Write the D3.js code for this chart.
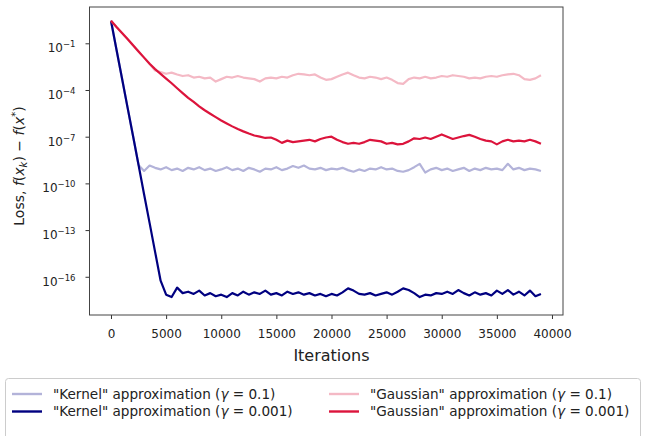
<!DOCTYPE html>
<html>
<head>
<meta charset="utf-8">
<script src="https://cdn.jsdelivr.net/npm/d3@7"></script>
<style>
    body { margin: 0; background: #fff; }
    svg { display: block; font-family: "DejaVu Sans", sans-serif; }
</style>
</head>
<body>
<div id="loss_chart"></div>
<script>
// loss values, one point every 500 iterations (0 .. 39000)
var iterations = d3.range(0, 39001, 500);

// "Kernel" approximation, gamma = 0.1
var kernelWide = [2.8, 3.9e-2, 5.5e-4, 7.6e-6, 1.1e-7, 1.5e-9,
    6.3e-10, 1.4e-9, 1.0e-9, 7.9e-10, 1.1e-9, 7.1e-10, 8.9e-10, 6.3e-10, 1.0e-9, 7.9e-10,
    1.1e-9, 7.1e-10, 8.9e-10, 6.3e-10, 7.9e-10, 1.1e-9, 7.1e-10, 8.9e-10, 6.3e-10, 1.0e-9,
    7.9e-10, 5.6e-10, 8.9e-10, 7.9e-10, 1.1e-9, 7.1e-10, 8.9e-10, 1.3e-9, 1.0e-9, 1.4e-9,
    8.9e-10, 7.9e-10, 1.0e-9, 7.1e-10, 8.9e-10, 7.9e-10, 1.0e-9, 7.1e-10, 5.6e-10, 7.9e-10,
    6.3e-10, 8.9e-10, 7.9e-10, 1.1e-9, 7.9e-10, 8.9e-10, 6.3e-10, 5.6e-10, 7.1e-10, 1.1e-9,
    1.8e-9, 5.0e-10, 7.9e-10, 1.0e-9, 7.1e-10, 8.9e-10, 6.3e-10, 7.9e-10, 1.0e-9, 6.3e-10,
    8.9e-10, 7.1e-10, 1.0e-9, 7.9e-10, 8.9e-10, 7.1e-10, 1.8e-9, 7.9e-10, 1.0e-9, 7.1e-10,
    8.9e-10, 7.9e-10, 6.3e-10];

// "Kernel" approximation, gamma = 0.001
var kernelNarrow = [2.8, 3.9e-2, 5.5e-4, 7.6e-6, 1.1e-7, 1.5e-9, 2.0e-11, 2.9e-13, 4.0e-15, 5.6e-17,
    7.1e-18, 5.0e-18, 2.0e-17, 8.9e-18, 1.1e-17, 7.9e-18, 1.3e-17, 6.3e-18, 8.9e-18, 5.6e-18,
    7.1e-18, 5.0e-18, 8.9e-18, 6.3e-18, 1.1e-17, 7.1e-18, 1.0e-17, 7.9e-18, 1.3e-17, 7.1e-18,
    8.9e-18, 6.3e-18, 1.1e-17, 7.9e-18, 1.0e-17, 7.1e-18, 8.9e-18, 6.3e-18, 7.9e-18, 5.6e-18,
    7.9e-18, 6.3e-18, 1.0e-17, 1.8e-17, 1.3e-17, 7.9e-18, 7.1e-18, 8.9e-18, 6.3e-18, 7.9e-18,
    1.0e-17, 7.1e-18, 1.1e-17, 1.8e-17, 1.4e-17, 8.9e-18, 5.0e-18, 7.1e-18, 6.3e-18, 8.9e-18,
    7.9e-18, 1.1e-17, 7.9e-18, 1.4e-17, 8.9e-18, 6.3e-18, 1.0e-17, 7.1e-18, 8.9e-18, 6.3e-18,
    1.3e-17, 7.9e-18, 1.4e-17, 7.1e-18, 1.1e-17, 6.3e-18, 1.3e-17, 5.6e-18, 7.9e-18];

// "Gaussian" approximation, gamma = 0.1
var gaussWide = [2.8, 1.1, 0.46, 0.19, 7.6e-2, 3.0e-2, 1.2e-2, 4.9e-3, 1.8e-3, 1.4e-3,
    1.1e-3, 1.3e-3, 1.0e-3, 7.9e-4, 8.9e-4, 6.3e-4, 7.1e-4, 5.6e-4, 6.3e-4, 3.5e-4,
    5.0e-4, 7.1e-4, 6.3e-4, 7.9e-4, 6.3e-4, 5.6e-4, 5.0e-4, 3.5e-4, 5.6e-4, 6.3e-4,
    5.6e-4, 7.1e-4, 6.3e-4, 8.9e-4, 1.1e-3, 1.0e-3, 8.9e-4, 1.0e-3, 6.3e-4, 4.5e-4,
    5.0e-4, 7.1e-4, 1.0e-3, 1.3e-3, 8.9e-4, 6.3e-4, 5.6e-4, 7.1e-4, 6.3e-4, 5.0e-4,
    6.3e-4, 4.5e-4, 2.8e-4, 2.5e-4, 5.0e-4, 6.3e-4, 5.6e-4, 7.1e-4, 5.6e-4, 6.3e-4,
    7.9e-4, 7.1e-4, 8.9e-4, 7.9e-4, 7.1e-4, 5.6e-4, 6.3e-4, 5.6e-4, 7.1e-4, 7.9e-4,
    7.1e-4, 8.9e-4, 1.0e-3, 1.1e-3, 8.9e-4, 5.0e-4, 4.5e-4, 5.6e-4, 8.9e-4];

// "Gaussian" approximation, gamma = 0.001
var gaussNarrow = [2.8, 1.1, 0.46, 0.19, 7.6e-2, 3.0e-2, 1.2e-2, 4.9e-3, 2.2e-3, 1.1e-3,
    5.4e-4, 2.7e-4, 1.3e-4, 6.3e-5, 3.1e-5, 1.7e-5, 8.9e-6, 5.0e-6, 3.0e-6, 1.8e-6,
    1.1e-6, 7.1e-7, 4.6e-7, 3.1e-7, 2.2e-7, 1.6e-7, 1.2e-7, 1.0e-7, 8.3e-8, 8.9e-8,
    6.3e-8, 4.0e-8, 5.6e-8, 4.5e-8, 5.0e-8, 5.6e-8, 6.3e-8, 5.0e-8, 7.1e-8, 8.9e-8,
    1.0e-7, 6.3e-8, 4.5e-8, 3.5e-8, 4.0e-8, 3.5e-8, 4.5e-8, 6.3e-8, 5.6e-8, 5.0e-8,
    3.5e-8, 4.0e-8, 3.2e-8, 3.5e-8, 5.0e-8, 7.9e-8, 7.1e-8, 8.9e-8, 7.1e-8, 1.0e-7,
    1.4e-7, 1.0e-7, 7.1e-8, 8.9e-8, 1.1e-7, 1.3e-7, 1.0e-7, 7.1e-8, 5.6e-8, 5.0e-8,
    3.2e-8, 5.0e-8, 6.3e-8, 5.0e-8, 5.6e-8, 5.0e-8, 6.3e-8, 5.0e-8, 3.5e-8];

var seriesValues = [kernelWide, kernelNarrow, gaussWide, gaussNarrow];
var seriesMethods = ['"Kernel"', '"Kernel"', '"Gaussian"', '"Gaussian"'];
var seriesGammas = ["0.1", "0.001", "0.1", "0.001"];
var seriesColors = ["#b3b3d9", "#000080", "#f4b9c5", "#dc143c"];

var xTicks = [0, 5000, 10000, 15000, 20000, 25000, 30000, 35000, 40000];
var yTickExps = [-1, -4, -7, -10, -13, -16];

(() => {

    var width = 647, height = 436;
    var plot = { left: 89.5, right: 563, top: 7, bottom: 315 };

    var svg = d3.select("#loss_chart")
        .append("svg")
        .attr("width", width)
        .attr("height", height);

    var x = d3.scaleLinear()
        .domain([-1950, 41000])
        .range([plot.left, plot.right]);

    var y = d3.scaleLog()
        .domain([21.5, 3.5e-19])
        .range([plot.top, plot.bottom]);

    // X axis
    var xAxis = svg.append("g")
        .attr("transform", "translate(0," + plot.bottom + ")")
        .call(d3.axisBottom(x).tickValues(xTicks).tickSize(4).tickFormat(d3.format("d")));
    xAxis.select(".domain").remove();
    xAxis.selectAll("line").attr("stroke", "#333");
    xAxis.selectAll("text")
        .attr("y", 22.5)
        .attr("dy", null)
        .style("font-size", "12px")
        .style("font-family", "DejaVu Sans")
        .attr("fill", "#222");

    // Y axis (log), labels as 10^n
    var yAxis = svg.append("g")
        .attr("transform", "translate(" + plot.left + ",0)")
        .call(d3.axisLeft(y).tickValues(yTickExps.map(function (e) { return Math.pow(10, e); }))
            .tickSize(4).tickFormat(""));
    yAxis.select(".domain").remove();
    yAxis.selectAll("line").attr("stroke", "#333");
    yAxis.selectAll(".tick text").each(function (d, i) {
        var t = d3.select(this)
            .attr("x", -14)
            .attr("y", 8.4)
            .attr("dy", null)
            .attr("fill", "#222")
            .style("font-family", "DejaVu Sans")
            .style("font-size", "12px");
        t.append("tspan").text("10");
        t.append("tspan")
            .attr("dy", -5)
            .style("font-size", "8.5px")
            .text("\u2212" + Math.abs(yTickExps[i]));
    });

    // lines
    var line = d3.line()
        .x(function (d, i) { return x(iterations[i]); })
        .y(function (d) { return y(d); });

    svg.selectAll("path.loss")
        .data(seriesValues)
        .enter()
        .append("path")
        .attr("class", "loss")
        .attr("d", line)
        .attr("fill", "none")
        .attr("stroke", function (d, i) { return seriesColors[i]; })
        .attr("stroke-width", 2.2)
        .attr("stroke-linejoin", "round");

    // frame
    svg.append("rect")
        .attr("x", plot.left)
        .attr("y", plot.top)
        .attr("width", plot.right - plot.left)
        .attr("height", plot.bottom - plot.top)
        .attr("fill", "none")
        .attr("stroke", "#444")
        .attr("stroke-width", 1);

    // axis titles
    svg.append("text")
        .attr("x", (x(0) + x(40000)) / 2)
        .attr("y", 361)
        .attr("text-anchor", "middle")
        .attr("fill", "#222")
        .style("font-size", "16px")
        .text("Iterations");

    var ylab = svg.append("text")
        .attr("transform", "translate(24,166) rotate(-90)")
        .attr("text-anchor", "middle")
        .attr("fill", "#222")
        .style("font-size", "14px");
    ylab.append("tspan").text("Loss, ");
    ylab.append("tspan").style("font-style", "italic").text("f");
    ylab.append("tspan").text("(");
    ylab.append("tspan").style("font-style", "italic").text("x");
    ylab.append("tspan").style("font-style", "italic").style("font-size", "10px").attr("dy", 3).text("k");
    ylab.append("tspan").attr("dy", -3).text(") \u2212 ");
    ylab.append("tspan").style("font-style", "italic").text("f");
    ylab.append("tspan").text("(");
    ylab.append("tspan").style("font-style", "italic").text("x");
    ylab.append("tspan").style("font-size", "10px").attr("dy", -5).text("*");
    ylab.append("tspan").attr("dy", 5).text(")");

    // legend
    svg.append("rect")
        .attr("x", 5.5)
        .attr("y", 378.5)
        .attr("width", 635)
        .attr("height", 70)
        .attr("rx", 3)
        .attr("fill", "white")
        .attr("stroke", "#ccc");

    var colX = [12, 329];
    var rowY = [394, 411.5];
    seriesValues.forEach(function (vals, i) {
        var cx = colX[Math.floor(i / 2)], cy = rowY[i % 2];
        svg.append("line")
            .attr("x1", cx).attr("x2", cx + 30)
            .attr("y1", cy).attr("y2", cy)
            .attr("stroke", seriesColors[i])
            .attr("stroke-width", 2.4);
        var t = svg.append("text")
            .attr("x", cx + 41)
            .attr("y", cy + 4.8)
            .attr("fill", "#222")
            .style("font-size", "13.6px");
        t.append("tspan").text(seriesMethods[i] + " approximation (");
        t.append("tspan").style("font-style", "italic").text("\u03b3");
        t.append("tspan").text(" = " + seriesGammas[i] + ")");
    });

})();
</script>
</body>
</html>
